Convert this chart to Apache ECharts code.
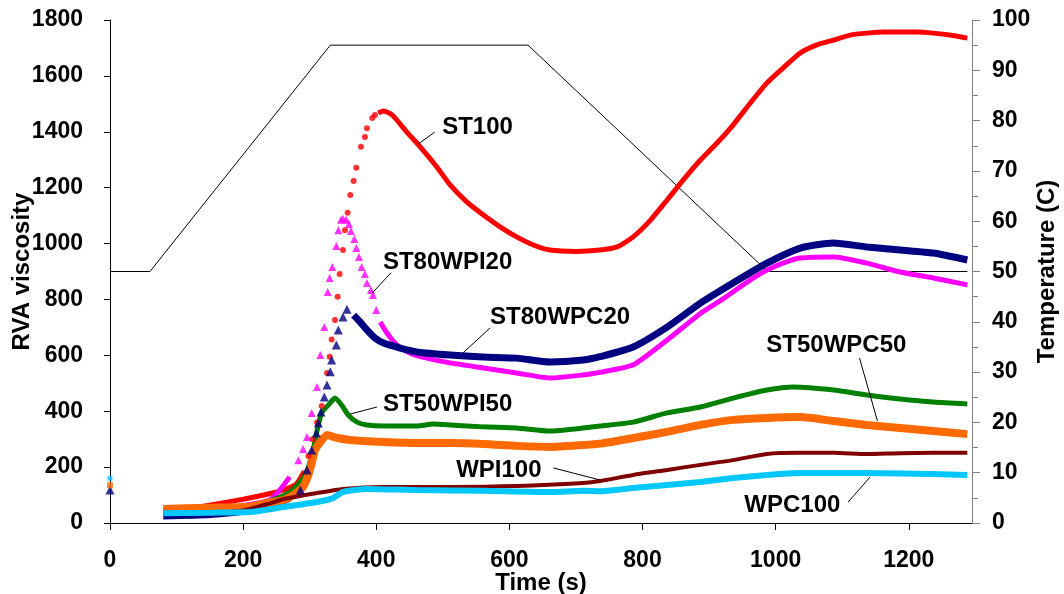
<!DOCTYPE html>
<html>
<head>
<meta charset="utf-8">
<script src="https://cdn.jsdelivr.net/npm/echarts@6/dist/echarts.min.js"></script>
<style>
  html, body { margin: 0; padding: 0; background: #fff; }
  #main { width: 1064px; height: 594px; }
</style>
</head>
<body>
<div id="main"></div>
<script>
// values: [time (s), RVA viscosity]
var st100Low = [[80,45],[120,52],[160,68],[200,85],[236,103],[260,118],[280,140],[292,185]];
var st100Dots = [[298,240],[304,300],[311,360],[318,419],[326,537],[330,595],[333,657],[338,726],[342,810],[345,891],[350,977],[353,1048],[357,1110],[361,1174],[366,1224],[370,1271],[377,1346],[383,1381],[386,1413],[394,1449],[398,1460]];
var st100High = [[403,1467],[411,1474],[424,1460],[446,1399],[466,1346],[491,1274],[511,1210],[536,1149],[561,1102],[586,1060],[611,1024],[636,995],[661,977],[700,972],[736,977],[762,988],[786,1024],[812,1084],[837,1156],[861,1227],[887,1299],[912,1360],[936,1424],[962,1503],[987,1575],[1011,1628],[1037,1682],[1062,1711],[1087,1728],[1112,1746],[1137,1753],[1162,1757],[1213,1757],[1237,1753],[1262,1746],[1288,1735]];

var wpi20Low = [[80,45],[160,52],[200,62],[240,82],[255,118],[270,165]];
var wpi20Dots = [[283,225],[290,265],[296,308],[303,394],[311,487],[316,601],[322,701],[327,827],[330,877],[334,916],[340,991],[343,1048],[347,1085],[350,1090],[355,1085],[359,1070],[362,1045],[367,1016],[370,984],[374,952],[378,916],[383,891],[386,859],[392,834],[395,816],[400,762]];
var wpi20High = [[406,719],[416,680],[431,637],[451,608],[476,590],[511,573],[561,555],[611,537],[661,519],[711,530],[736,539],[786,566],[837,655],[887,750],[921,802],[962,870],[987,905],[1011,930],[1037,948],[1087,952],[1137,930],[1187,898],[1237,877],[1288,852]];

var wpc20Low = [[80,25],[150,30],[200,42],[240,58],[270,89]];
var wpc20Dots = [[0,118],[286,118],[296,190],[303,261],[310,322],[313,358],[317,397],[322,451],[326,494],[331,541],[333,583],[340,637],[343,691],[350,737],[356,765]];
var wpc20High = [[366,744],[376,719],[386,691],[398,662],[411,644],[436,626],[461,612],[511,601],[561,594],[611,590],[661,576],[711,583],[736,595],[786,630],[837,701],[887,787],[936,859],[987,930],[1037,984],[1087,1002],[1137,988],[1187,977],[1237,966],[1288,941]];

var wpi50 = [[80,45],[150,52],[210,62],[240,78],[270,110],[290,160],[298,200],[306,270],[312,340],[318,394],[328,422],[338,447],[348,422],[358,386],[371,361],[386,351],[411,347],[461,347],[486,354],[511,351],[561,344],[611,340],[661,329],[711,340],[736,347],[786,361],[837,394],[887,415],[936,447],[987,476],[1027,487],[1087,476],[1137,458],[1187,444],[1237,433],[1288,426]];

var wpc50 = [[80,50],[150,55],[210,58],[236,72],[260,82],[275,100],[290,129],[298,172],[303,215],[308,261],[316,290],[326,315],[340,305],[361,297],[411,290],[461,286],[511,286],[561,283],[611,276],[661,272],[711,279],[736,284],[786,304],[837,326],[887,351],[936,369],[987,376],[1037,379],[1087,365],[1137,351],[1187,340],[1237,329],[1288,318]];
var wpc50Dots = [[0,135]];

var wpi100 = [[80,35],[150,35],[200,45],[240,70],[260,85],[311,107],[350,122],[411,129],[511,129],[611,132],[711,143],[736,150],[786,172],[837,190],[887,208],[936,225],[987,247],[1037,251],[1087,251],[1137,247],[1187,250],[1237,251],[1288,251]];

var wpc100 = [[80,35],[150,37],[210,39],[260,57],[311,75],[335,89],[350,111],[386,122],[461,118],[561,115],[661,111],[711,115],[736,114],[786,125],[837,136],[887,147],[936,161],[987,172],[1037,179],[1137,179],[1237,175],[1288,172]];
var wpc100Dots = [[0,160]];

// temperature profile (right axis)
var tempTime = [0, 60, 331, 628, 988, 1288];
var tempValue = [50, 50, 95, 95, 50, 50];

var xTicks = [0, 200, 400, 600, 800, 1000, 1200];

// curve labels: text anchor and leader line, in data coordinates
var notes = [
  { text: 'ST100',     at: [499, 1417], from: [488, 1399], to: [463, 1356] },
  { text: 'ST80WPI20', at: [410, 934],  from: [422, 895],  to: [394, 823] },
  { text: 'ST80WPC20', at: [571, 737],  from: [571, 698],  to: [530, 608] },
  { text: 'ST50WPI50', at: [410, 426],  from: [401, 415],  to: [361, 390] },
  { text: 'ST50WPC50', at: [986, 637],  from: [1126, 590], to: [1153, 365] },
  { text: 'WPI100',    at: [520, 190],  from: [666, 197],  to: [736, 154] },
  { text: 'WPC100',    at: [953, 64],   from: [1109, 75],  to: [1142, 165] }
];

var FONT = '"Liberation Sans", Arial, Helvetica, sans-serif';

var myChart = echarts.init(document.getElementById('main'), null, { renderer: 'canvas' });

function lineSeries(data, color, width) {
  return {
    type: 'line', data: data, showSymbol: false, smooth: 0.2,
    lineStyle: { color: color, width: width }, itemStyle: { color: color },
    z: 3
  };
}
function dotSeries(data, color, symbol, size) {
  return {
    type: 'scatter', data: data, symbol: symbol, symbolSize: size,
    itemStyle: { color: color }, z: 3
  };
}

var option = {
  animation: false,
  grid: { left: 110, right: 92, top: 20, bottom: 71, containLabel: false, outerBoundsMode: 'none' },
  xAxis: {
    type: 'value', min: 0, max: 1295, interval: 200,
    name: 'Time (s)', nameLocation: 'middle', nameGap: 48, nameMoveOverlap: false,
    nameTextStyle: { fontFamily: FONT, fontWeight: 'bold', fontSize: 24, color: '#000' },
    axisLine: { lineStyle: { color: '#000', width: 1 } },
    axisTick: { show: true, length: 7, lineStyle: { color: '#000' } },
    axisLabel: {
      fontFamily: FONT, fontWeight: 'bold', fontSize: 23, color: '#000', margin: 26,
      showMaxLabel: false,
      formatter: function (v) { return xTicks.indexOf(v) >= 0 ? String(v) : ''; }
    },
    splitLine: { show: false }
  },
  yAxis: [{
    type: 'value', min: 0, max: 1800, interval: 200,
    name: 'RVA viscosity', nameLocation: 'middle', nameGap: 76, nameMoveOverlap: false,
    nameTextStyle: { fontFamily: FONT, fontWeight: 'bold', fontSize: 24, color: '#000' },
    axisLine: { show: true, lineStyle: { color: '#000', width: 1 } },
    axisTick: { show: true, length: 6, lineStyle: { color: '#000' } },
    axisLabel: {
      fontFamily: FONT, fontWeight: 'bold', fontSize: 23, color: '#000', margin: 27,
      formatter: function (v) { return String(v); }
    },
    splitLine: { show: false }
  }, {
    type: 'value', min: 0, max: 100, interval: 10, position: 'right',
    name: 'Temperature (C)', nameLocation: 'middle', nameGap: 63, nameMoveOverlap: false,
    nameTextStyle: { fontFamily: FONT, fontWeight: 'bold', fontSize: 24, color: '#000' },
    axisLine: { show: true, lineStyle: { color: '#808080', width: 1 } },
    axisTick: { show: true, length: 8, lineStyle: { color: '#808080' } },
    minorTick: { show: true, splitNumber: 2, length: 6, lineStyle: { color: '#808080' } },
    axisLabel: { fontFamily: FONT, fontWeight: 'bold', fontSize: 23, color: '#000', margin: 20 },
    splitLine: { show: false }
  }],
  series: [
    {
      type: 'line', yAxisIndex: 1, showSymbol: false,
      data: tempTime.map(function (t, i) { return [t, tempValue[i]]; }),
      lineStyle: { color: '#000', width: 1 }, z: 2
    },
    lineSeries(st100Low, '#ff0000', 5),
    dotSeries(st100Dots, '#ff0000', 'circle', 6),
    lineSeries(st100High, '#ff0000', 5),
    lineSeries(wpi20Low, '#ff00ff', 5),
    dotSeries(wpi20Dots, '#ff00ff', 'triangle', 8),
    lineSeries(wpi20High, '#ff00ff', 5),
    lineSeries(wpc20Low, '#000080', 7),
    dotSeries(wpc20Dots, '#000080', 'triangle', 9),
    lineSeries(wpc20High, '#000080', 7),
    lineSeries(wpi50, '#008000', 5),
    lineSeries(wpc50, '#ff6a00', 8),
    dotSeries(wpc50Dots, '#ff6a00', 'rect', 6),
    lineSeries(wpi100, '#800000', 4),
    lineSeries(wpc100, '#00c8ff', 6),
    dotSeries(wpc100Dots, '#00c8ff', 'rect', 5)
  ]
};

myChart.setOption(option);

// place the curve labels through the chart's own coordinate system
var graphics = [];
notes.forEach(function (n) {
  var p = myChart.convertToPixel({ gridIndex: 0 }, n.at);
  var a = myChart.convertToPixel({ gridIndex: 0 }, n.from);
  var b = myChart.convertToPixel({ gridIndex: 0 }, n.to);
  graphics.push({
    type: 'text', x: p[0], y: p[1], z: 10,
    style: { text: n.text, font: 'bold 24px ' + FONT, fill: '#000', verticalAlign: 'middle', align: 'left' }
  });
  graphics.push({
    type: 'line', z: 10,
    shape: { x1: a[0], y1: a[1], x2: b[0], y2: b[1] },
    style: { stroke: '#000', lineWidth: 1 }
  });
});
myChart.setOption({ graphic: graphics });
</script>
</body>
</html>
